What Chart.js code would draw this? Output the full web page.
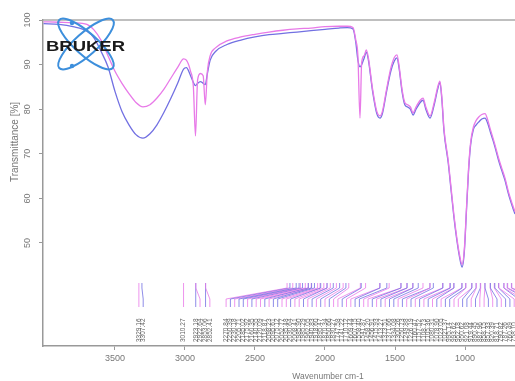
<!DOCTYPE html>
<html>
<head>
<meta charset="utf-8">
<script src="https://cdn.jsdelivr.net/npm/chart.js@4.4.1/dist/chart.umd.min.js"></script>
<style>
  html, body { margin: 0; padding: 0; background: #fff; }
  canvas { display: block; }
</style>
</head>
<body>
<canvas id="irChart" width="515" height="381"></canvas>
<script>
// wavenumber grid (cm-1), shared by both spectra
var wavenumbers = [
  4010, 3900, 3800, 3700, 3650, 3600, 3550, 3500, 3450, 3400,
  3350, 3300, 3250, 3200, 3150, 3100, 3050, 3010, 2990, 2960,
  2940, 2925, 2910, 2890, 2870, 2855, 2840, 2820, 2780, 2700,
  2600, 2500, 2400, 2300, 2200, 2100, 2000, 1900, 1840, 1800,
  1780, 1765, 1750, 1738, 1720, 1705, 1690, 1660, 1630, 1607,
  1590, 1560, 1530, 1505, 1486, 1470, 1450, 1430, 1410, 1390,
  1371, 1350, 1320, 1300, 1280, 1250, 1220, 1195, 1179, 1165,
  1150, 1120, 1100, 1080, 1060, 1040, 1021, 1005, 990, 975,
  960, 940, 920, 900, 880, 857, 840, 820, 800, 786,
  760, 740, 714, 690, 660, 643
];

var blueT = [
  99.2, 99.0, 98.5, 97.5, 96.0, 93.0, 89.5, 84.0, 79.5, 76.5,
  74.3, 73.5, 74.5, 76.5, 79.3, 82.5, 86.0, 89.0, 89.3, 87.5,
  86.0, 85.3, 85.8, 86.2, 85.8, 85.5, 88.0, 91.0, 93.0, 94.5,
  95.5, 96.2, 96.7, 97.0, 97.3, 97.6, 97.9, 98.2, 98.3, 98.0,
  95.0, 91.0, 89.5, 90.0, 91.5, 92.8, 91.0, 84.0, 79.0, 78.0,
  79.0, 84.0, 88.5, 90.8, 91.5, 89.0, 84.0, 81.0, 80.5, 80.0,
  78.7, 80.0, 81.5, 82.0, 80.0, 78.0, 81.0, 84.5, 86.0, 82.0,
  75.0, 68.0, 62.0, 56.0, 51.0, 47.0, 44.6, 48.0, 57.0, 66.0,
  72.0, 75.5, 76.5, 77.2, 77.8, 78.0, 77.0, 75.0, 73.0, 71.5,
  68.5, 66.5, 64.0, 61.0, 58.0, 56.5
];

var pinkT = [
  99.6, 99.5, 99.4, 99.0, 97.8, 95.5, 92.0, 88.5, 85.8, 83.5,
  81.5, 80.5, 81.0, 82.5, 84.5, 87.0, 89.5, 91.3, 91.0, 88.5,
  85.0, 74.0, 86.5, 88.0, 87.5, 81.0, 88.5, 92.0, 93.8, 95.3,
  96.2, 96.8, 97.3, 97.7, 98.0, 98.2, 98.5, 98.6, 98.6, 98.3,
  95.5, 92.0, 78.0, 90.5, 92.0, 93.3, 91.5, 84.5, 79.5, 78.5,
  79.5, 84.5, 89.2, 91.6, 92.2, 89.5, 84.5, 81.5, 81.0, 80.5,
  79.2, 80.5, 82.0, 82.5, 80.5, 78.5, 81.5, 85.0, 86.3, 82.5,
  75.5, 68.5, 62.5, 56.5, 51.5, 47.5, 45.2, 48.5, 57.5, 66.5,
  72.5, 76.0, 77.5, 78.3, 78.8, 79.0, 77.8, 75.6, 73.5, 72.0,
  69.0, 67.0, 64.5, 61.5, 58.5, 57.0
];

// picked peaks, labelled under the spectra
var bluePeaks = [
  3307.42, 2923.18, 2853.06, 2250.39, 2205.71, 2185.02, 2160.35, 2118.87,
  2095.61, 2075.12, 2030.64, 1985.29, 1940.83, 1895.47, 1850.66,
  1741.22, 1607.15, 1558.40, 1456.91, 1413.27, 1371.66, 1334.08, 1250.73,
  1226.19, 1157.52, 1105.36, 1078.90, 1021.37, 995.14, 950.62, 921.08,
  890.45, 857.33, 818.71, 787.26, 760.49, 722.85, 698.17, 668.54
];
var pinkPeaks = [
  3329.16, 3010.27, 2922.64, 2852.41, 2270.84, 2230.18, 2175.92, 2140.55,
  2120.09, 2098.23, 2052.77, 2035.48, 2008.41, 1985.90, 1962.05, 1918.60,
  1870.34, 1830.27,
  1747.58, 1710.12, 1609.44, 1541.87, 1458.20, 1415.93, 1373.51, 1300.26,
  1249.88, 1160.47, 1108.73, 1080.31, 1023.05, 993.62, 952.18, 919.44,
  887.96, 858.15, 820.39, 790.82, 758.10, 720.57, 695.33, 665.79
];

var xTicks = [3500, 3000, 2500, 2000, 1500, 1000];
var yTicks = [100, 90, 80, 70, 60, 50];

var blueColor = "rgba(114,112,226,1)";
var pinkColor = "rgba(232,122,232,1)";
var fontName = "'Liberation Sans', Arial, sans-serif";

function pairs(values) {
  var out = [];
  for (var i = 0; i < wavenumbers.length; i++) {
    out.push({ x: wavenumbers[i], y: values[i] });
  }
  return out;
}

var decorations = {
  id: "decorations",
  afterDraw: function (chart) {
    var ctx = chart.ctx;
    var area = chart.chartArea;
    var xs = chart.scales.x;
    var ys = chart.scales.y;

    ctx.save();

    // top frame line
    ctx.strokeStyle = "#aaa";
    ctx.lineWidth = 1.5;
    ctx.beginPath();
    ctx.moveTo(area.left, area.top);
    ctx.lineTo(area.right, area.top);
    ctx.stroke();

    // rotated y tick labels
    ctx.fillStyle = "#777";
    ctx.font = "9px " + fontName;
    ctx.textAlign = "center";
    ctx.textBaseline = "middle";
    for (var i = 0; i < yTicks.length; i++) {
      var py = ys.getPixelForValue(yTicks[i]);
      ctx.save();
      ctx.translate(28, py);
      ctx.rotate(-Math.PI / 2);
      ctx.fillText(String(yTicks[i]), 0, 0);
      ctx.restore();
    }

    // axis titles
    ctx.save();
    ctx.translate(15, 142);
    ctx.rotate(-Math.PI / 2);
    ctx.font = "10px " + fontName;
    ctx.fillText("Transmittance [%]", 0, 0);
    ctx.restore();
    ctx.font = "8.5px " + fontName;
    ctx.fillText("Wavenumber cm-1", 328, 377);

    // peak labels, spread so they do not overlap
    var items = [];
    for (var b = 0; b < bluePeaks.length; b++) {
      items.push({ w: bluePeaks[b], color: blueColor, px: xs.getPixelForValue(bluePeaks[b]) });
    }
    for (var p = 0; p < pinkPeaks.length; p++) {
      items.push({ w: pinkPeaks[p], color: pinkColor, px: xs.getPixelForValue(pinkPeaks[p]) });
    }
    items.sort(function (a, c) { return a.px - c.px; });
    var gap = 4.3;
    for (var k = 0; k < items.length; k++) {
      items[k].lx = items[k].px;
      if (k > 0 && items[k].lx < items[k - 1].lx + gap) items[k].lx = items[k - 1].lx + gap;
    }
    // the spectrum carries on past the right edge, so allow some overflow
    var limit = area.right + 25;
    for (var m = items.length - 1; m >= 0; m--) {
      var maxX = (m === items.length - 1) ? limit : items[m + 1].lx - gap;
      if (items[m].lx > maxX) items[m].lx = maxX;
    }

    ctx.lineWidth = 0.8;
    for (var n = 0; n < items.length; n++) {
      var it = items[n];
      ctx.strokeStyle = it.color;
      ctx.beginPath();
      ctx.moveTo(it.px, 283);
      ctx.lineTo(it.px, 288);
      ctx.lineTo(it.lx, 299);
      ctx.lineTo(it.lx, 307);
      ctx.stroke();

      ctx.save();
      ctx.translate(it.lx, 342);
      ctx.rotate(-Math.PI / 2);
      ctx.fillStyle = "#666";
      ctx.font = "6.5px " + fontName;
      ctx.textAlign = "left";
      ctx.textBaseline = "middle";
      ctx.fillText(it.w.toFixed(2), 0, 0);
      ctx.restore();
    }

    // Bruker logo
    ctx.strokeStyle = "#3d8fdc";
    ctx.lineWidth = 2;
    ctx.beginPath();
    ctx.ellipse(86, 44, 36, 11, Math.PI / 4.3, 0, Math.PI * 2);
    ctx.stroke();
    ctx.beginPath();
    ctx.ellipse(86, 44, 36, 11, -Math.PI / 4.3, 0, Math.PI * 2);
    ctx.stroke();
    ctx.fillStyle = "#3d8fdc";
    ctx.beginPath();
    ctx.arc(72, 23, 2.2, 0, Math.PI * 2);
    ctx.fill();
    ctx.beginPath();
    ctx.arc(72, 66, 2.2, 0, Math.PI * 2);
    ctx.fill();

    ctx.fillStyle = "#1a1a1a";
    ctx.font = "bold 15px " + fontName;
    ctx.textAlign = "left";
    ctx.textBaseline = "middle";
    var tw = ctx.measureText("BRUKER").width;
    ctx.save();
    ctx.translate(46, 46.5);
    ctx.scale(79 / tw, 1);
    ctx.fillText("BRUKER", 0, 0);
    ctx.restore();

    ctx.restore();
  }
};

var ctx_ir = document.getElementById("irChart");

var irChart = new Chart(ctx_ir, {
  type: "line",
  data: {
    datasets: [
      {
        label: "Spectrum 1",
        data: pairs(pinkT),
        borderColor: pinkColor,
        borderWidth: 1.3,
        pointRadius: 0,
        cubicInterpolationMode: "monotone",
        fill: false
      },
      {
        label: "Spectrum 2",
        data: pairs(blueT),
        borderColor: blueColor,
        borderWidth: 1.3,
        pointRadius: 0,
        cubicInterpolationMode: "monotone",
        fill: false
      }
    ]
  },
  options: {
    responsive: false,
    animation: false,
    layout: { padding: { top: 20, right: 0, left: 0, bottom: 0 } },
    plugins: { legend: { display: false }, tooltip: { enabled: false } },
    scales: {
      x: {
        type: "linear",
        reverse: true,
        min: 643,
        max: 4014,
        afterBuildTicks: function (s) {
          s.ticks = xTicks.map(function (v) { return { value: v }; });
        },
        afterFit: function (s) { s.height = 35; },
        grid: { drawOnChartArea: false, drawTicks: true, tickLength: 4, color: "#999" },
        border: { color: "#999", width: 1.5 },
        ticks: {
          color: "#777",
          font: { size: 9, family: fontName },
          padding: 3,
          maxRotation: 0,
          autoSkip: false,
          callback: function (v) { return String(v); }
        }
      },
      y: {
        min: 26.9,
        max: 100,
        afterBuildTicks: function (s) {
          s.ticks = yTicks.map(function (v) { return { value: v }; });
        },
        afterFit: function (s) { s.width = 43; },
        grid: { drawOnChartArea: false, drawTicks: true, tickLength: 4, color: "#999" },
        border: { color: "#999", width: 1.5 },
        ticks: { display: false }
      }
    }
  },
  plugins: [decorations]
});
</script>
</body>
</html>
